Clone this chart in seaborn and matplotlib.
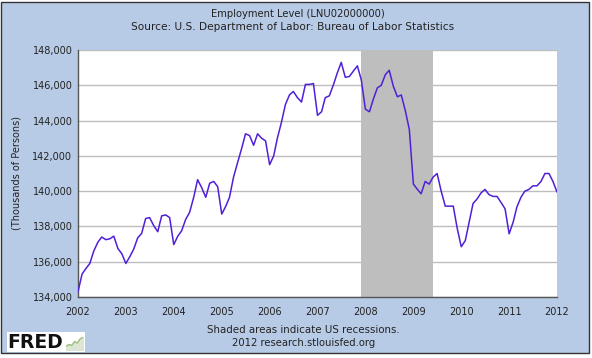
import pandas as pd
import numpy as np
import matplotlib
matplotlib.use('Agg')
import matplotlib.pyplot as plt
import matplotlib.dates as mdates
from matplotlib.patches import Rectangle
from matplotlib.ticker import FuncFormatter
import seaborn as sns

# monthly employment level, thousands of persons
emp_2002 = [134300, 135300, 135600, 135900, 136600, 137100, 137400, 137250, 137300, 137450, 136750, 136450]
emp_2003 = [135900, 136300, 136700, 137350, 137600, 138450, 138500, 138050, 137700, 138600, 138650, 138500]
emp_2004 = [136970, 137450, 137750, 138400, 138800, 139650, 140650, 140200, 139650, 140450, 140550, 140250]
emp_2005 = [138700, 139150, 139650, 140800, 141600, 142400, 143250, 143150, 142600, 143250, 143000, 142850]
emp_2006 = [141500, 142000, 143000, 143900, 144900, 145450, 145650, 145300, 145050, 146050, 146050, 146100]
emp_2007 = [144300, 144500, 145300, 145400, 146000, 146700, 147300, 146450, 146500, 146800, 147100, 146300]
emp_2008 = [144650, 144500, 145200, 145850, 146000, 146600, 146850, 145950, 145350, 145450, 144550, 143500]
emp_2009 = [140400, 140100, 139850, 140550, 140400, 140800, 141000, 140000, 139150, 139150, 139150, 137900]
emp_2010 = [136850, 137200, 138200, 139300, 139550, 139900, 140100, 139800, 139700, 139700, 139350, 139000]
emp_2011 = [137580, 138250, 139100, 139650, 140000, 140100, 140300, 140300, 140550, 141000, 141000, 140550]
emp_2012 = [139950]

recession = ['2007-12-01', '2009-06-01']
y_ticks = [134000, 136000, 138000, 140000, 142000, 144000, 146000, 148000]

# little sparkline next to the FRED logo
logo_line = [1.0, 1.6, 1.3, 2.4, 2.0, 3.2, 3.6]

values = (emp_2002 + emp_2003 + emp_2004 + emp_2005 + emp_2006 + emp_2007
          + emp_2008 + emp_2009 + emp_2010 + emp_2011 + emp_2012)
df = pd.DataFrame({
    'date': pd.date_range('2002-01-01', periods=len(values), freq='MS'),
    'employment': values,
})

sns.set_style('white')
plt.rcParams['font.family'] = ['DejaVu Sans']

bg = '#B8CBE6'
txt = '#222222'
fig = plt.figure(figsize=(5.92, 3.58), dpi=100)
fig.patch.set_facecolor('white')
fig.patches.append(Rectangle((1 / 592, 1 - 353 / 358), 588 / 592, 351 / 358,
                             transform=fig.transFigure, facecolor=bg,
                             edgecolor='#333333', lw=1, zorder=-1))
# white box behind the logo
fig.patches.append(Rectangle((7 / 592, 1 - 352 / 358), 78 / 592, 20 / 358,
                             transform=fig.transFigure, facecolor='white',
                             edgecolor='none', zorder=-0.5))

ax = fig.add_axes([78 / 592, 1 - 297 / 358, 479 / 592, 247 / 358])
ax.set_facecolor('white')

ax.axvspan(pd.Timestamp(recession[0]), pd.Timestamp(recession[1]),
           color='#BEBEBE', lw=0, zorder=1)
sns.lineplot(data=df, x='date', y='employment', ax=ax, color='#5020D8',
             lw=1.1, zorder=3)

ax.set_xlim(pd.Timestamp('2002-01-01'), pd.Timestamp('2012-01-01'))
ax.set_ylim(134000, 148000)
ax.set_yticks(y_ticks)
ax.yaxis.set_major_formatter(FuncFormatter(lambda v, p: f'{int(v):,}'))
ax.xaxis.set_major_locator(mdates.YearLocator())
ax.xaxis.set_major_formatter(mdates.DateFormatter('%Y'))

ax.grid(axis='y', color='#BDBDBD', lw=1, zorder=0)
ax.set_axisbelow(True)
ax.tick_params(axis='both', direction='in', length=4, color='#444444',
               labelsize=7, labelcolor=txt)
ax.tick_params(axis='x', pad=7)
ax.tick_params(axis='y', pad=4)
for s in ['top', 'right']:
    ax.spines[s].set_visible(False)
for s in ['left', 'bottom']:
    ax.spines[s].set_color('#555555')
    ax.spines[s].set_linewidth(1)

ax.set_xlabel('')
ax.set_ylabel('(Thousands of Persons)', fontsize=7, color=txt, labelpad=8)

fig.text(298 / 592, 1 - 14 / 358, 'Employment Level (LNU02000000)',
         ha='center', va='center', fontsize=7.2, color=txt)
fig.text(293 / 592, 1 - 27 / 358, 'Source: U.S. Department of Labor: Bureau of Labor Statistics',
         ha='center', va='center', fontsize=7.6, color=txt)
fig.text(303 / 592, 1 - 330 / 358, 'Shaded areas indicate US recessions.',
         ha='center', va='center', fontsize=7.4, color=txt)
fig.text(304 / 592, 1 - 343 / 358, '2012 research.stlouisfed.org',
         ha='center', va='center', fontsize=7.2, color=txt)
fig.text(7 / 592, 1 - 343 / 358, 'FRED', ha='left', va='center', fontsize=13.5,
         fontweight='heavy', color='#111111')

logo = fig.add_axes([66 / 592, 1 - 350 / 358, 17 / 592, 14 / 358])
logo.set_facecolor('#EEF2EA')
sns.lineplot(x=range(len(logo_line)), y=logo_line, ax=logo, color='#9DBF7E', lw=1)
logo.fill_between(range(len(logo_line)), logo_line, color='#DDE6D4')
logo.set_xlim(0, len(logo_line) - 1)
logo.set_ylim(0, 4)
logo.set_axis_off()

fig.savefig('out.png', dpi=100)
